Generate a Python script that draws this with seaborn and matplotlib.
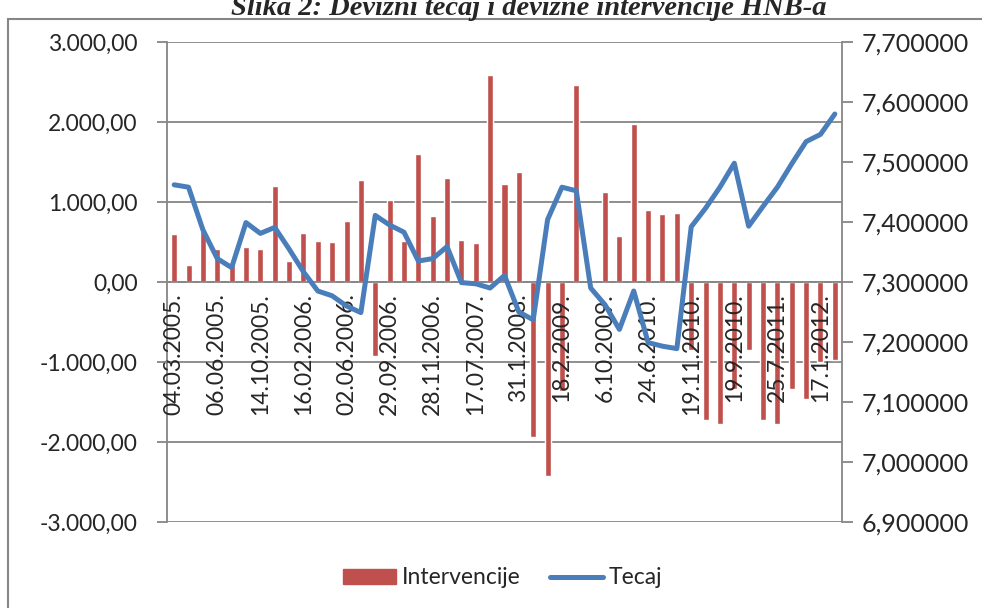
import numpy as np
import pandas as pd
import matplotlib

matplotlib.use("Agg")
import matplotlib.pyplot as plt
import seaborn as sns
from matplotlib.patches import Patch
from matplotlib.lines import Line2D
from matplotlib.ticker import FuncFormatter, FixedLocator

# data
intervencije = [605, 210, 640, 415, 230, 440, 410, 1200, 260, 610,
                515, 505, 760, 1270, -920, 1030, 510, 1600, 830, 1300,
                520, 490, 2590, 1230, 1370, -1940, -2420, -1360, 2460, 0,
                1120, 580, 1980, 905, 855, 860, -850, -1730, -1780, -1335,
                -850, -1720, -1770, -1340, -1465, -1000, -980]
tecaj = [7.462, 7.458, 7.387, 7.339, 7.324, 7.399, 7.381, 7.391, 7.355, 7.317,
         7.285, 7.277, 7.260, 7.249, 7.411, 7.395, 7.383, 7.335, 7.339, 7.359,
         7.299, 7.297, 7.290, 7.311, 7.250, 7.237, 7.404, 7.458, 7.452, 7.290,
         7.262, 7.221, 7.285, 7.199, 7.193, 7.189, 7.392, 7.423, 7.458, 7.498,
         7.393, 7.426, 7.458, 7.497, 7.534, 7.546, 7.580]
date_labels = ["04.03.2005.", "06.06.2005.", "14.10.2005.", "16.02.2006.",
               "02.06.2006.", "29.09.2006.", "28.11.2006.", "17.07.2007.",
               "31.1.2008.", "18.2.2009.", "6.10.2009.", "24.6.2010.",
               "19.11.2010.", "19.9.2010.", "25.7.2011.", "17.1.2012."]
left_ticks = [-3000, -2000, -1000, 0, 1000, 2000, 3000]
right_ticks = [6.9, 7.0, 7.1, 7.2, 7.3, 7.4, 7.5, 7.6, 7.7]

RED = "#C0504D"
BLUE = "#4A7EBB"
GRID = "#868686"

sns.set_style("white")
plt.rcParams["font.family"] = ["Lato", "DejaVu Sans"]
FS = 16.5

n = len(intervencije)
df = pd.DataFrame({"idx": np.arange(n), "intervencije": intervencije, "tecaj": tecaj})

fig = plt.figure(figsize=(9.82, 6.08), dpi=100)
ax = fig.add_axes([167 / 982, 1 - 522 / 608, 675 / 982, 480 / 608])

# gridlines kept under the bars, tick labels drawn above them
for t in left_ticks:
    ax.axhline(t, color=GRID, lw=1.3, zorder=0.5)
sns.barplot(data=df, x="idx", y="intervencije", color=RED, saturation=1,
            width=0.42, ax=ax, zorder=1)
ax.grid(False)
ax.set_axisbelow(False)
ax.set_xlim(-0.5, n - 0.5)
ax.set_ylim(-3000, 3000)
ax.set_yticks(left_ticks)
ax.yaxis.set_major_formatter(FuncFormatter(
    lambda v, p: f"{v:,.2f}".replace(",", "X").replace(".", ",").replace("X", ".")))

ax.spines["top"].set_visible(False)
ax.spines["right"].set_visible(False)
ax.spines["bottom"].set_position(("data", 0))
ax.spines["bottom"].set_color(GRID)
ax.spines["bottom"].set_linewidth(1.3)
ax.spines["left"].set_color(GRID)
ax.spines["left"].set_linewidth(1.3)

ax.xaxis.set_major_locator(FixedLocator(np.arange(0, n, 3)))
ax.set_xticklabels(date_labels, rotation=90, fontsize=FS)
ax.xaxis.set_minor_locator(FixedLocator(np.arange(-0.5, n, 1)))
ax.tick_params(axis="x", which="major", length=0, pad=8)
ax.tick_params(axis="x", which="minor", length=5, color=GRID, width=1.3, direction="out")
ax.tick_params(axis="y", length=7, color=GRID, width=1.3, labelsize=FS, pad=14)
ax.set_xlabel("")
ax.set_ylabel("")

ax2 = ax.twinx()
sns.lineplot(data=df, x="idx", y="tecaj", color=BLUE, lw=3.6, ax=ax2,
             solid_capstyle="round", solid_joinstyle="round")
ax2.set_ylim(6.9, 7.7)
ax2.set_yticks(right_ticks)
ax2.yaxis.set_major_formatter(FuncFormatter(lambda v, p: f"{v:.6f}".replace(".", ",")))
ax2.tick_params(axis="y", length=8, color=GRID, width=1.3, labelsize=18, pad=6)
ax2.set_ylabel("")
for s in ["top", "left", "bottom"]:
    ax2.spines[s].set_visible(False)
ax2.spines["right"].set_color(GRID)
ax2.spines["right"].set_linewidth(1.3)
ax2.set_xlim(-0.5, n - 0.5)

handles = [Patch(color=RED, label="Intervencije"),
           Line2D([0], [0], color=BLUE, lw=3.6, solid_capstyle="round", label="Tecaj")]
fig.legend(handles=handles, loc="center", bbox_to_anchor=(0.512, 1 - 578 / 608),
           ncol=2, frameon=False, fontsize=FS, handlelength=2.3,
           handletextpad=0.25, columnspacing=1.3, handleheight=0.6)

# outer chart frame (left and top edges visible) and the clipped caption above it
frame_y = 1 - 19 / 608
fig.add_artist(Line2D([8 / 982, 8 / 982], [0, frame_y], transform=fig.transFigure,
                      color=GRID, lw=1.5))
fig.add_artist(Line2D([8 / 982, 1], [frame_y, frame_y], transform=fig.transFigure,
                      color=GRID, lw=1.5))
fig.text(0.538, 1 - 15 / 608, "Slika 2: Devizni tečaj i devizne intervencije HNB-a",
         ha="center", va="baseline", fontsize=20.5, fontweight="bold",
         fontstyle="italic", family="Liberation Serif")

fig.savefig("out.png", dpi=100, facecolor="white")
